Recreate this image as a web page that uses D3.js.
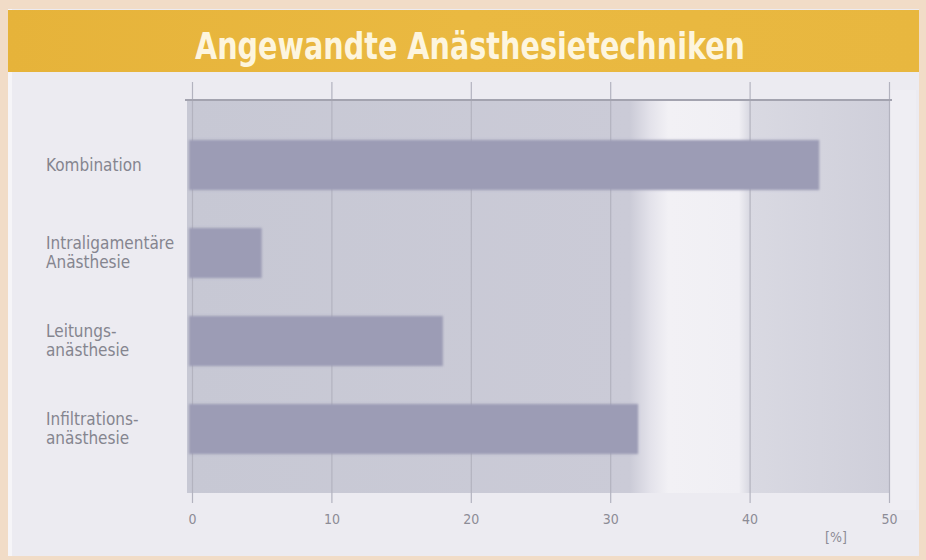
<!DOCTYPE html>
<html>
<head>
<meta charset="utf-8">
<script src="https://cdn.jsdelivr.net/npm/d3@7"></script>
<style>
  html, body { margin: 0; padding: 0; background: #f1dcc7; }
  svg { display: block; }
</style>
</head>
<body>
<svg id="chart" width="926" height="560"></svg>
<script>
const title = "Angewandte Anästhesietechniken";
const categories = ["Kombination", "Intraligamentäre Anästhesie", "Leitungsanästhesie", "Infiltrationsanästhesie"];
const labelLines = [["Kombination"], ["Intraligamentäre", "Anästhesie"], ["Leitungs-", "anästhesie"], ["Infiltrations-", "anästhesie"]];
const values = [45, 5, 18, 32];
const tickValues = [0, 10, 20, 30, 40, 50];
const unitLabel = "[%]";

const condensed = "'DejaVu Sans Condensed', 'DejaVu Sans', sans-serif";

const svg = d3.select("#chart");
const defs = svg.append("defs");

// background gradient of the plot (photo-like)
const g1 = defs.append("linearGradient").attr("id", "plotbg").attr("x1", "0").attr("x2", "1").attr("y1", "0").attr("y2", "0");
[[0, "#c7c8d4"], [0.63, "#cbcbd7"], [0.66, "#e4e3eb"], [0.685, "#f2f1f5"], [0.785, "#f0eff4"], [0.80, "#d9d9e2"], [1, "#cfcfda"]]
  .forEach(([o, c]) => g1.append("stop").attr("offset", o).attr("stop-color", c));
const gGold = defs.append("linearGradient").attr("id", "gold").attr("x1", "0").attr("x2", "1");
[[0, "#e6b33a"], [0.5, "#eab941"], [1, "#e8b73f"]].forEach(([o, c]) => gGold.append("stop").attr("offset", o).attr("stop-color", c));
defs.append("filter").attr("id", "soft").attr("x", "-5%").attr("y", "-20%").attr("width", "110%").attr("height", "140%")
  .append("feGaussianBlur").attr("stdDeviation", 1.3);

// outer frame
svg.append("rect").attr("x", 0).attr("y", 0).attr("width", 926).attr("height", 560).attr("fill", "#f1dcc7");
svg.append("rect").attr("x", 8).attr("y", 9).attr("width", 911).attr("height", 547).attr("fill", "#ecebf1");
svg.append("rect").attr("x", 8).attr("y", 9).attr("width", 4).attr("height", 547).attr("fill", "#f6f5f8");
// header band
svg.append("rect").attr("x", 8).attr("y", 10).attr("width", 911).attr("height", 62).attr("fill", "url(#gold)");
svg.append("text").attr("x", 470).attr("y", 59).attr("text-anchor", "middle")
  .attr("font-family", condensed)
  .attr("font-weight", "bold").attr("font-size", 38).attr("fill", "#fdf5de")
  .attr("textLength", 550).attr("lengthAdjust", "spacingAndGlyphs")
  .text(title);

// scales
const x = d3.scaleLinear().domain([0, 50]).range([192, 889]);
const y = d3.scaleBand().domain(categories).range([121, 473]).paddingInner(0.43).paddingOuter(0.215);

// plot background
svg.append("rect").attr("x", x(0) - 5).attr("y", 100).attr("width", x(50) - x(0) + 6).attr("height", 393)
  .attr("fill", "url(#plotbg)");
// light right strip
svg.append("rect").attr("x", x(50) + 1).attr("y", 90).attr("width", 26).attr("height", 420).attr("fill", "#efeef3");

// grid / axis
const axis = d3.axisBottom(x).tickValues(tickValues).tickFormat(d3.format("d"))
  .tickSizeInner(-(503 - 82)).tickSizeOuter(0).tickPadding(11);
const ax = svg.append("g").attr("transform", "translate(0,503)").call(axis);
ax.select(".domain").remove();
ax.selectAll(".tick line").attr("stroke", "#b3b3bf").attr("stroke-width", 1.2);
ax.selectAll(".tick text").attr("fill", "#8c8c96")
  .attr("font-family", condensed).attr("font-size", 14);

// top line
svg.append("line").attr("x1", x(0) - 7).attr("x2", x(50) + 3).attr("y1", 100).attr("y2", 100)
  .attr("stroke", "#a3a3af").attr("stroke-width", 2);

// bars
svg.append("g").attr("filter", "url(#soft)")
  .selectAll("rect").data(categories).join("rect")
  .attr("x", x(0) - 3).attr("y", d => y(d))
  .attr("width", (d, i) => x(values[i]) - x(0) + 3)
  .attr("height", y.bandwidth())
  .attr("fill", "#9c9cb5");

// category labels
const lab = svg.append("g").attr("font-family", condensed)
  .attr("font-size", 17).attr("fill", "#85858f");
categories.forEach((c, i) => {
  const lines = labelLines[i];
  const cy = y(c) + y.bandwidth() / 2;
  const t = lab.append("text").attr("x", 46);
  lines.forEach((ln, j) => {
    t.append("tspan").attr("x", 46)
      .attr("y", cy + (j - (lines.length - 1) / 2) * 19)
      .attr("dy", "0.35em").text(ln);
  });
});

// unit label
svg.append("text").attr("x", x(46.2)).attr("y", 542).attr("text-anchor", "middle")
  .attr("font-family", condensed).attr("font-size", 14)
  .attr("fill", "#8c8c96").text(unitLabel);
</script>
</body>
</html>
